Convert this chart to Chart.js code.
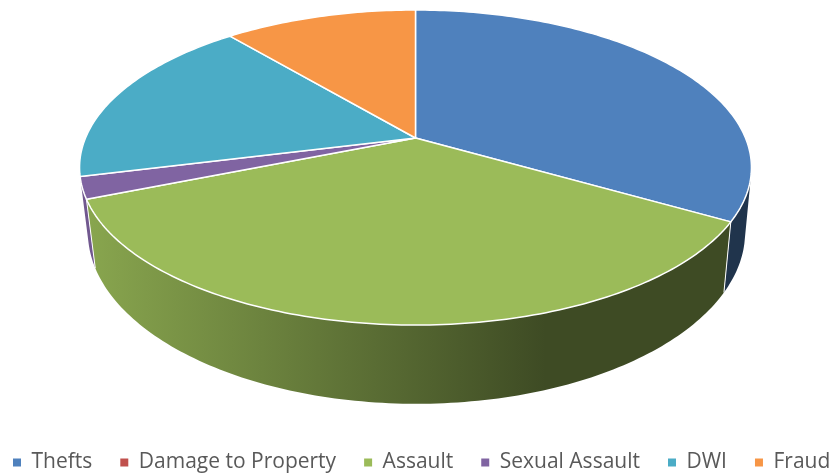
<!DOCTYPE html>
<html>
<head>
<meta charset="utf-8">
<style>
    html, body { margin: 0; padding: 0; background: #fff; }
    canvas { display: block; }
</style>
<script src="https://cdn.jsdelivr.net/npm/chart.js@4"></script>
</head>
<body>
<canvas id="myChart" width="833" height="473"></canvas>
<script>
// データ
const categories = ["Thefts", "Damage to Property", "Assault", "Sexual Assault", "DWI", "Fraud"];
const counts = [15, 0, 16, 1, 8, 5];
const sliceColors = ["#4f81bd", "#c0504d", "#9bbb59", "#8064a2", "#4bacc6", "#f79646"];

// 遠近法の設定(円の中心が apex に来る)
const apexX = 415.5;
const apexY = 138;
const radiusX = 330;
const radiusY = 152;
const tilt = 0.1873;
const wallDepth = 64;
const wallShift = 1;
const wallShrink = 0.98;
const wallTaper = 0.01;
const wallFrom = 0.24; // これより奥の側面は見えない
const STEP = Math.PI / 180;

// 天面の点
const topPoint = (a) => {
    const w = 1 - tilt * Math.sin(a);
    return [apexX + radiusX * Math.cos(a) / w, apexY + radiusY * Math.sin(a) / w];
};

// 底面の点
const bottomPoint = (a) => {
    const v = Math.sin(a);
    const w = 1 - tilt * v;
    return [
        apexX + wallShift + (wallShrink - wallTaper * v) * radiusX * Math.cos(a) / w,
        apexY + (radiusY * v + wallDepth) / w,
    ];
};

const sampleAngles = (start, end) => {
    const list = [];
    for (let a = start; a < end; a += STEP) list.push(a);
    list.push(end);
    return list;
};

const shade = (hex, f) => {
    const n = parseInt(hex.slice(1), 16);
    const r = Math.round((n >> 16 & 255) * f);
    const g = Math.round((n >> 8 & 255) * f);
    const b = Math.round((n & 255) * f);
    return `rgb(${r},${g},${b})`;
};

// 天面はライブラリの角度をそのまま使って描く
Chart.ArcElement.prototype.draw = function (ctx) {
    if (this.circumference <= 0) return;
    ctx.save();
    ctx.beginPath();
    ctx.moveTo(apexX, apexY);
    sampleAngles(this.startAngle, this.endAngle).forEach((a) => {
        const p = topPoint(a);
        ctx.lineTo(p[0], p[1]);
    });
    ctx.closePath();
    ctx.fillStyle = this.options.backgroundColor;
    ctx.fill();
    ctx.lineJoin = "round";
    ctx.lineWidth = this.options.borderWidth;
    ctx.strokeStyle = this.options.borderColor;
    ctx.stroke();
    ctx.restore();
};

// 側面
const wallPlugin = {
    id: "wall",
    beforeDatasetsDraw(chart) {
        const ctx = chart.ctx;
        const arcs = chart.getDatasetMeta(0).data;
        arcs.forEach((arc, i) => {
            if (arc.circumference <= 0) return;
            const angles = sampleAngles(arc.startAngle, arc.endAngle).filter((a) => Math.sin(a) >= wallFrom);
            if (angles.length < 2) return;
            const grad = ctx.createLinearGradient(90, 0, 760, 0);
            grad.addColorStop(0, shade(sliceColors[i], 0.88));
            grad.addColorStop(0.68, shade(sliceColors[i], 0.4));
            grad.addColorStop(1, shade(sliceColors[i], 0.4));
            ctx.beginPath();
            angles.forEach((a, j) => {
                const p = topPoint(a);
                if (j === 0) ctx.moveTo(p[0], p[1]);
                else ctx.lineTo(p[0], p[1]);
            });
            angles.slice().reverse().forEach((a) => {
                const p = bottomPoint(a);
                ctx.lineTo(p[0], p[1]);
            });
            ctx.closePath();
            ctx.fillStyle = grad;
            ctx.fill();
        });
        // 手前側の切れ目の白線
        arcs.forEach((arc) => {
            if (arc.circumference <= 0 || Math.sin(arc.startAngle) < 0.3) return;
            const t = topPoint(arc.startAngle);
            const b = bottomPoint(arc.startAngle);
            ctx.beginPath();
            ctx.moveTo(t[0], t[1]);
            ctx.lineTo(b[0], b[1]);
            ctx.lineWidth = 1;
            ctx.strokeStyle = "#ffffff";
            ctx.stroke();
        });
    },
};

new Chart(document.getElementById("myChart"), {
    type: "pie",
    data: {
        labels: categories,
        datasets: [
            {
                data: counts,
                backgroundColor: sliceColors,
                borderColor: "#ffffff",
                borderWidth: 1.5,
            },
        ],
    },
    options: {
        responsive: false,
        animation: false,
        layout: { padding: { left: -15, right: -40, bottom: -10 } },
        plugins: {
            tooltip: { enabled: false },
            legend: {
                position: "bottom",
                align: "start",
                labels: {
                    color: "#595959",
                    boxWidth: 8,
                    boxHeight: 8,
                    padding: 28,
                    font: { family: "Open Sans", size: 21 },
                    // 凡例の四角には枠線をつけない
                    generateLabels: (chart) =>
                        Chart.overrides.pie.plugins.legend.labels.generateLabels(chart).map((item) => ({ ...item, lineWidth: 0 })),
                },
            },
        },
    },
    plugins: [wallPlugin],
});
</script>
</body>
</html>
